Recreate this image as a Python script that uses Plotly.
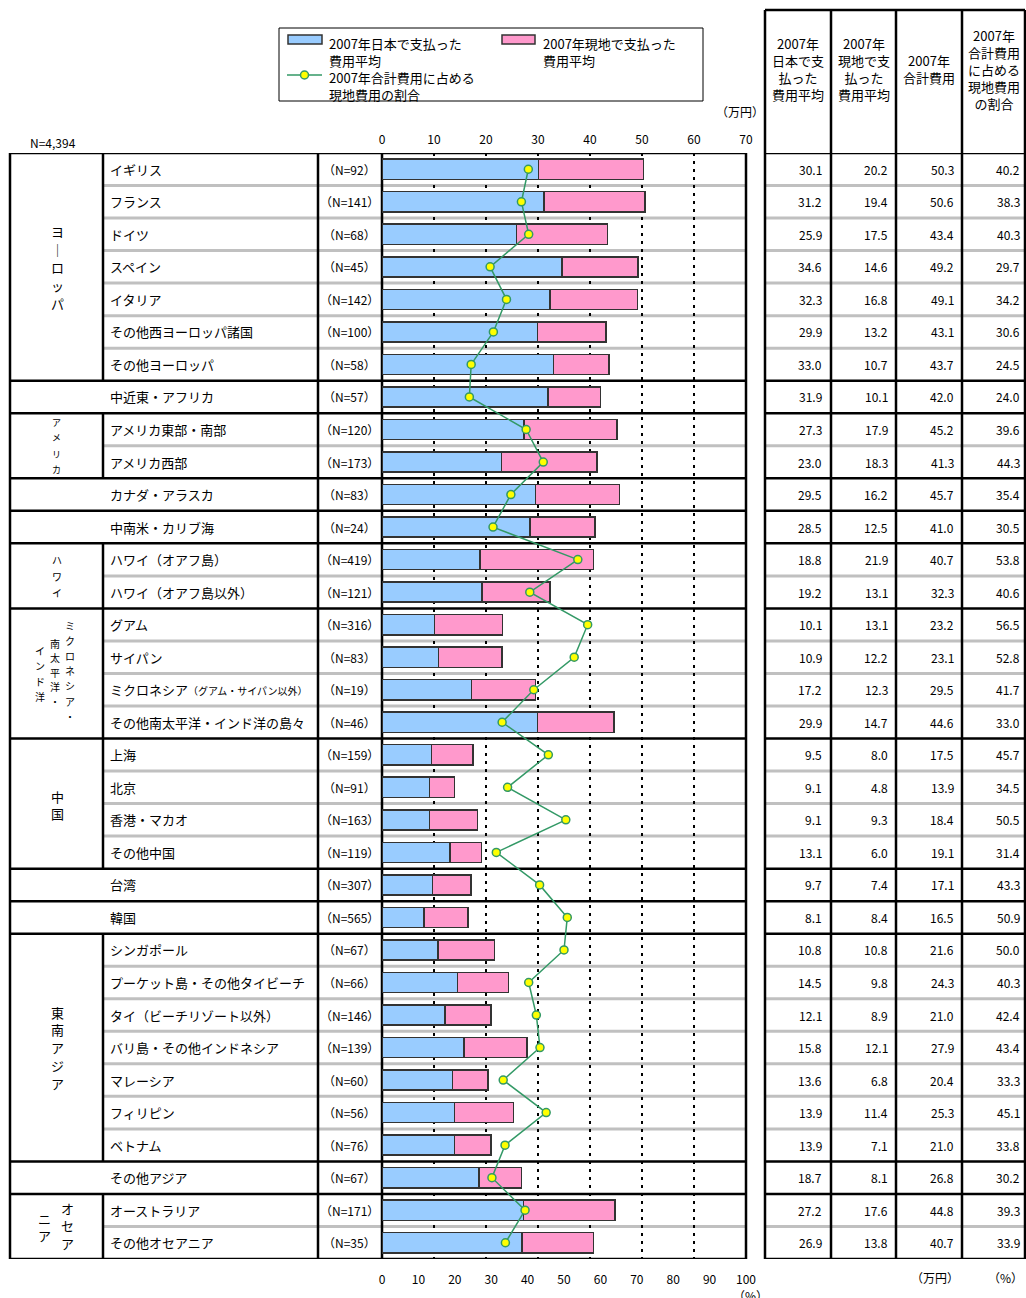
import plotly.graph_objects as go

W, H = 1026, 1298
TOP, BOT = 153, 1259
FONT = "Noto Sans CJK JP"

# データ
labels = [
    "イギリス", "フランス", "ドイツ", "スペイン", "イタリア", "その他西ヨーロッパ諸国", "その他ヨーロッパ",
    "中近東・アフリカ",
    "アメリカ東部・南部", "アメリカ西部",
    "カナダ・アラスカ",
    "中南米・カリブ海",
    "ハワイ（オアフ島）", "ハワイ（オアフ島以外）",
    "グアム", "サイパン",
    "ミクロネシア<span style='font-size:10px'>（グアム・サイパン以外）</span>",
    "その他南太平洋・インド洋の島々",
    "上海", "北京", "香港・マカオ", "その他中国",
    "台湾", "韓国",
    "シンガポール", "プーケット島・その他タイビーチ", "タイ（ビーチリゾート以外）",
    "バリ島・その他インドネシア", "マレーシア", "フィリピン", "ベトナム",
    "その他アジア",
    "オーストラリア", "その他オセアニア",
]
n_counts = [92, 141, 68, 45, 142, 100, 58, 57, 120, 173, 83, 24, 419, 121, 316, 83, 19, 46,
            159, 91, 163, 119, 307, 565, 67, 66, 146, 139, 60, 56, 76, 67, 171, 35]
jp_paid = [30.1, 31.2, 25.9, 34.6, 32.3, 29.9, 33.0, 31.9, 27.3, 23.0, 29.5, 28.5, 18.8, 19.2,
           10.1, 10.9, 17.2, 29.9, 9.5, 9.1, 9.1, 13.1, 9.7, 8.1, 10.8, 14.5, 12.1, 15.8,
           13.6, 13.9, 13.9, 18.7, 27.2, 26.9]
local_paid = [20.2, 19.4, 17.5, 14.6, 16.8, 13.2, 10.7, 10.1, 17.9, 18.3, 16.2, 12.5, 21.9, 13.1,
              13.1, 12.2, 12.3, 14.7, 8.0, 4.8, 9.3, 6.0, 7.4, 8.4, 10.8, 9.8, 8.9, 12.1,
              6.8, 11.4, 7.1, 8.1, 17.6, 13.8]
total_cost = [50.3, 50.6, 43.4, 49.2, 49.1, 43.1, 43.7, 42.0, 45.2, 41.3, 45.7, 41.0, 40.7, 32.3,
              23.2, 23.1, 29.5, 44.6, 17.5, 13.9, 18.4, 19.1, 17.1, 16.5, 21.6, 24.3, 21.0, 27.9,
              20.4, 25.3, 21.0, 26.8, 44.8, 40.7]
local_share = [40.2, 38.3, 40.3, 29.7, 34.2, 30.6, 24.5, 24.0, 39.6, 44.3, 35.4, 30.5, 53.8, 40.6,
               56.5, 52.8, 41.7, 33.0, 45.7, 34.5, 50.5, 31.4, 43.3, 50.9, 50.0, 40.3, 42.4, 43.4,
               33.3, 45.1, 33.8, 30.2, 39.3, 33.9]

# (先頭行, 最終行, 地域列あり)
groups = [(0, 6, True), (7, 7, False), (8, 9, True), (10, 10, False), (11, 11, False),
          (12, 13, True), (14, 17, True), (18, 21, True), (22, 22, False), (23, 23, False),
          (24, 30, True), (31, 31, False), (32, 33, True)]

rows = list(range(len(labels)))


def px(x):
    return x / W


def py(y):
    return 1 - y / H


fig = go.Figure()
fig.add_trace(go.Bar(
    y=rows, x=jp_paid, orientation="h", width=0.62, name="2007年日本で支払った費用平均",
    marker=dict(color="#99CCFF", line=dict(color="#333333", width=1.5)),
))
fig.add_trace(go.Bar(
    y=rows, x=local_paid, orientation="h", width=0.62, name="2007年現地で支払った費用平均",
    marker=dict(color="#FF99CC", line=dict(color="#333333", width=1.5)),
))
fig.add_trace(go.Scatter(
    y=rows, x=local_share, xaxis="x2", mode="lines+markers",
    name="2007年合計費用に占める現地費用の割合",
    line=dict(color="#339966", width=1.5),
    marker=dict(size=8, color="#FFFF00", line=dict(color="#339966", width=1.5)),
))

shapes = []
BLACK = dict(color="black", width=2.5)
GRAY = dict(color="#C0C0C0", width=3)


def hline(x0, x1, y, line, yref="y"):
    shapes.append(dict(type="line", xref="paper", yref=yref, x0=px(x0), x1=px(x1),
                       y0=y, y1=y, line=line, layer="between"))


def vline(x, y0, y1, line=BLACK, yref="paper"):
    shapes.append(dict(type="line", xref="paper", yref=yref, x0=px(x), x1=px(x),
                       y0=y0, y1=y1, line=line, layer="between"))


for g0, g1, has_region in groups:
    for i in range(g0, g1):
        hline(103, 746, i + 0.5, GRAY)
        hline(765, 1025, i + 0.5, GRAY)
    if has_region:
        vline(103, g0 - 0.5, g1 + 0.5, yref="y")
for g0, g1, _ in groups:
    hline(10, 746, g0 - 0.5, BLACK)
    hline(765, 1025, g0 - 0.5, BLACK)
hline(10, 746, 33.5, BLACK)
hline(765, 1025, 33.5, BLACK)

for x in [10, 318, 382, 746]:
    vline(x, py(BOT), py(TOP))
for x in [765, 831, 896, 962, 1025]:
    vline(x, py(BOT), py(10))
hline(765, 1025, py(10), BLACK, yref="paper")

# 凡例
shapes.append(dict(type="rect", xref="paper", yref="paper", x0=px(279), x1=px(703),
                   y0=py(101), y1=py(28), line=dict(color="black", width=1)))
shapes.append(dict(type="rect", xref="paper", yref="paper", x0=px(288), x1=px(322),
                   y0=py(44), y1=py(35), fillcolor="#99CCFF", line=dict(color="#333333", width=1.5)))
shapes.append(dict(type="rect", xref="paper", yref="paper", x0=px(502), x1=px(535),
                   y0=py(44), y1=py(35), fillcolor="#FF99CC", line=dict(color="#333333", width=1.5)))
shapes.append(dict(type="line", xref="paper", yref="paper", x0=px(287), x1=px(322),
                   y0=py(75), y1=py(75), line=dict(color="#339966", width=1.5)))
shapes.append(dict(type="circle", xref="paper", yref="paper", x0=px(300.5), x1=px(308.5),
                   y0=py(79), y1=py(71), fillcolor="#FFFF00", line=dict(color="#339966", width=1.5)))

ann = []


def text(x, y, s, size=13, xanchor="center", yanchor="middle", yref="paper", align="center"):
    ann.append(dict(x=x, y=y, xref="paper", yref=yref, text=s, showarrow=False,
                    xanchor=xanchor, yanchor=yanchor, align=align,
                    font=dict(family=FONT, size=size, color="black")))


text(px(327), py(32), "2007年日本で支払った<br>費用平均", xanchor="left", yanchor="top", align="left")
text(px(541), py(32), "2007年現地で支払った<br>費用平均", xanchor="left", yanchor="top", align="left")
text(px(327), py(66), "2007年合計費用に占める<br>現地費用の割合", xanchor="left", yanchor="top", align="left")

text(px(28), py(142), "N=4,394", size=12, xanchor="left")
text(px(740), py(111), "（万円）", size=12)
text(px(935), py(1277), "（万円）", size=12)
text(px(1005), py(1277), "（%）", size=12)
text(px(750), py(1295), "（%）", size=12)

# 表の見出し
text(px(798), py(69), "2007年<br>日本で支<br>払った<br>費用平均")
text(px(863.5), py(69), "2007年<br>現地で支<br>払った<br>費用平均")
text(px(929), py(69), "2007年<br>合計費用")
text(px(994), py(69), "2007年<br>合計費用<br>に占める<br>現地費用<br>の割合")

# 行ラベルと表の数値
for i in rows:
    text(px(108), i, labels[i], xanchor="left", yref="y")
    text(px(349), i, f"（N={n_counts[i]}）", size=12, yref="y")
    for xr, v in zip([824, 890, 956, 1022], [jp_paid[i], local_paid[i], total_cost[i], local_share[i]]):
        text(px(xr), i, f"{v:.1f}", size=12, xanchor="right", yref="y")


# 縦書きの地域名
def vtext(chars, x, y0, step, size=13):
    for k, c in enumerate(chars):
        text(px(x), py(y0 + k * step), c, size=size)


vtext("ヨ｜ロッパ", 57, 232, 17.8)
vtext("アメリカ", 56, 422, 16, size=9)
vtext("ハワイ", 57, 560, 16, size=10)
vtext("ミクロネシア・", 70, 625, 15.2, size=10)
vtext("南太平洋・", 55, 643, 14.5, size=10)
vtext("インド洋", 40, 650, 15.5, size=10)
vtext("中国", 57, 796, 17.5)
vtext("東南アジア", 57, 1012, 17.8)
vtext("オセア", 67, 1208, 17.5)
vtext("ニア", 44, 1218, 17.5)

fig.update_layout(
    width=W, height=H, margin=dict(l=0, r=0, t=0, b=0), template="none",
    paper_bgcolor="white", plot_bgcolor="white", showlegend=False, barmode="stack",
    font=dict(family=FONT, size=12, color="black"),
    xaxis=dict(domain=[px(382), px(746)], range=[0, 70], side="top", dtick=10, anchor="y",
               showgrid=True, gridcolor="black", gridwidth=2, griddash="3px,5px",
               zeroline=False, showline=False, ticks="", ticklabelstandoff=6,
               tickfont=dict(size=12)),
    xaxis2=dict(range=[0, 100], overlaying="x", side="bottom", anchor="y", dtick=10,
                showgrid=False, zeroline=False, showline=False, ticks="",
                ticklabelstandoff=12, tickfont=dict(size=12)),
    yaxis=dict(domain=[py(BOT), py(TOP)], range=[33.5, -0.5], showticklabels=False,
               showgrid=False, zeroline=False, showline=False),
    shapes=shapes, annotations=ann,
)

# ページ既定の余白(8px)を消して図を左上にそろえる、ツールバーは非表示
fig.write_html("out.html", config={"displayModeBar": False},
               post_script="document.body.style.margin='0';")
